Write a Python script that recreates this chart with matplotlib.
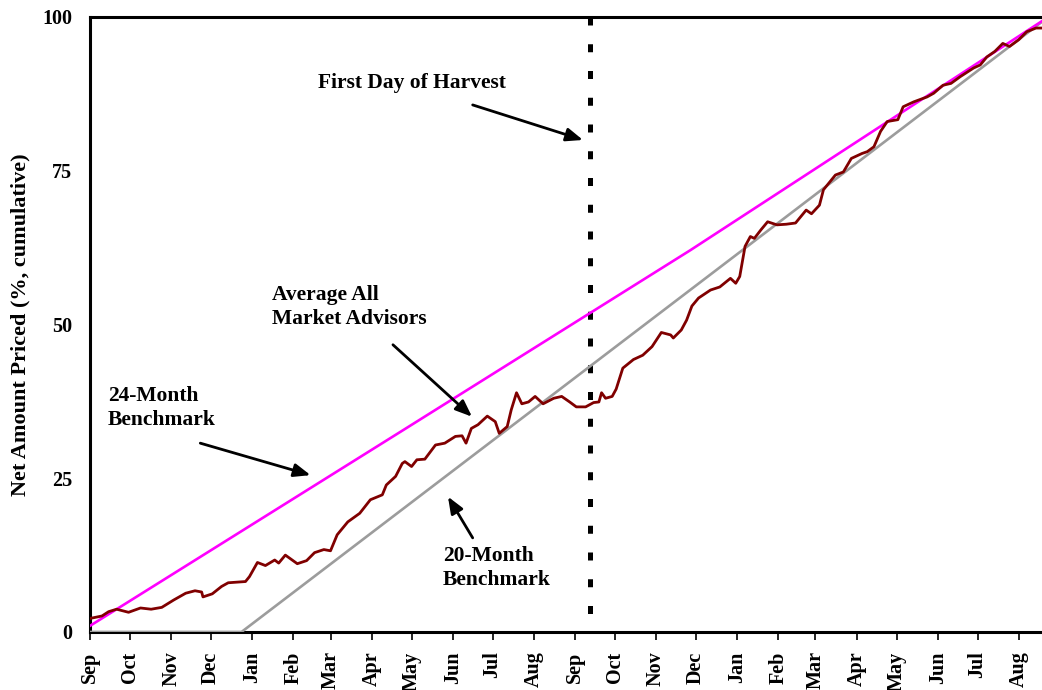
import matplotlib

matplotlib.use("Agg")
import matplotlib.pyplot as plt  # noqa: E402

# x = calendar days since Sep 1 of the first marketing year
MONTHS = ["Sep", "Oct", "Nov", "Dec", "Jan", "Feb", "Mar", "Apr", "May", "Jun", "Jul", "Aug"] * 2
MONTH_DAYS = [0, 30, 61, 91, 122, 153, 181, 212, 242, 273, 303, 334,
              365, 395, 426, 456, 487, 518, 546, 577, 607, 638, 668, 699]

bench24_day = [0, 237, 452, 717]
bench24_val = [1.0, 33.0, 62.1, 99.4]

bench20_day = [0, 114, 717]
bench20_val = [0.0, 0.0, 99.3]

advisor_day = [
    0, 9, 14, 20, 29, 38, 46, 54, 63, 72, 79, 84, 85, 92, 99, 104, 117, 120,
    126, 132, 139, 142, 147, 156, 163, 169, 176, 181, 186, 194, 203, 211, 220,
    223, 230, 235,
    237, 242, 246, 252, 260, 267, 275, 280, 283, 287, 292, 299, 305, 308, 314,
    317, 321, 325, 330, 335, 341, 349, 355, 361, 366, 373, 379, 383, 385, 388,
    393, 396, 401, 409, 416, 423, 430, 437, 439, 445, 449,
    453, 458, 467, 474, 482, 486, 489, 493, 497, 500, 505, 510, 517, 524, 531,
    539, 543, 549, 552, 561, 567, 573, 581, 585, 590, 595, 600, 608, 612, 620,
    630, 635, 642, 648, 655, 665, 670, 675, 681, 687, 692, 699, 705, 712, 717,
]
advisor_val = [
    2.2, 2.6, 3.3, 3.7, 3.2, 3.9, 3.7, 4.0, 5.2, 6.3, 6.7, 6.5, 5.7, 6.2, 7.4,
    8.0, 8.2, 9.0, 11.3, 10.8, 11.7, 11.2, 12.5, 11.1, 11.6, 12.9, 13.4, 13.2,
    15.8, 17.9, 19.3, 21.5, 22.3, 23.9, 25.3, 27.4,
    27.7, 26.9, 28.0, 28.1, 30.4, 30.7, 31.8, 31.9, 30.7, 33.1, 33.7, 35.1,
    34.2, 32.3, 33.4, 36.1, 38.9, 37.1, 37.4, 38.3, 37.1, 38.0, 38.3, 37.4,
    36.6, 36.6, 37.3, 37.4, 38.9, 38.0, 38.3, 39.5, 42.9, 44.3, 45.0, 46.4,
    48.7, 48.3, 47.8, 49.1, 50.7,
    53.0, 54.3, 55.6, 56.1, 57.5, 56.7, 57.8, 62.7, 64.3, 64.0, 65.4, 66.7,
    66.2, 66.3, 66.5, 68.6, 68.0, 69.4, 71.9, 74.3, 74.8, 77.0, 77.8, 78.1,
    78.9, 81.4, 83.0, 83.3, 85.4, 86.2, 87.0, 87.6, 88.9, 89.2, 90.3, 91.7,
    92.2, 93.5, 94.4, 95.7, 95.2, 96.3, 97.6, 98.2, 98.2,
]

HARVEST_DAY = 376

plt.rcParams["font.family"] = ["Liberation Serif", "DejaVu Serif"]
plt.rcParams["font.weight"] = "bold"

fig = plt.figure(figsize=(10.42, 6.90), dpi=100)
ax = fig.add_axes([0.0864, 0.0841, 0.9136, 0.8913])

ax.plot(bench20_day, bench20_val, color="#9c9c9c", lw=1.9, zorder=3)
ax.plot(bench24_day, bench24_val, color="#ff00ff", lw=1.9, zorder=3)
ax.plot(advisor_day, advisor_val, color="#800000", lw=2.0, zorder=4)
# drawn top-down so the dash pattern starts at the top spine
ax.plot([HARVEST_DAY, HARVEST_DAY], [100, 0], color="black", lw=3.6,
        linestyle=(0, (1.6, 3.75)), solid_capstyle="butt", zorder=2)

ax.set_xlim(0, 716.5)
ax.set_ylim(0, 100)
ax.set_yticks([0, 25, 50, 75, 100])
ax.tick_params(axis="y", length=0, pad=13, labelsize=14.5)
ax.set_xticks(MONTH_DAYS)
ax.set_xticklabels(MONTHS, rotation=90, fontsize=14.5)
ax.tick_params(axis="x", length=6, width=1.2, pad=8, direction="out")
for lab in ax.get_xticklabels() + ax.get_yticklabels():
    lab.set_fontweight("bold")

ax.spines["right"].set_visible(False)
for side in ("left", "bottom", "top"):
    ax.spines[side].set_linewidth(2.2)
ax.set_ylabel("Net Amount Priced (%, cumulative)", fontsize=16, fontweight="bold", labelpad=8)

text_kw = dict(fontsize=15.5, fontweight="bold", linespacing=1.25)
arrow_kw = dict(arrowstyle="-|>,head_length=1.0,head_width=0.4", color="black", lw=2,
                shrinkA=0, shrinkB=0)

ax.text(242, 89.3, "First Day of Harvest", ha="center", va="center", **text_kw)
ax.annotate("", xy=(371, 80.0), xytext=(288, 85.7), arrowprops=arrow_kw)

ax.text(13.5, 36.4, "24-Month\nBenchmark", ha="left", va="center", **text_kw)
ax.annotate("", xy=(166, 25.5), xytext=(83, 30.7), arrowprops=arrow_kw)

ax.text(137, 52.8, "Average All\nMarket Advisors", ha="left", va="center", **text_kw)
ax.annotate("", xy=(287.5, 35.0), xytext=(228, 46.7), arrowprops=arrow_kw)

ax.text(265.7, 10.4, "20-Month\nBenchmark", ha="left", va="center", **text_kw)
ax.annotate("", xy=(269.4, 22.0), xytext=(288, 15.3), arrowprops=arrow_kw)

fig.savefig("out.png", dpi=100)
